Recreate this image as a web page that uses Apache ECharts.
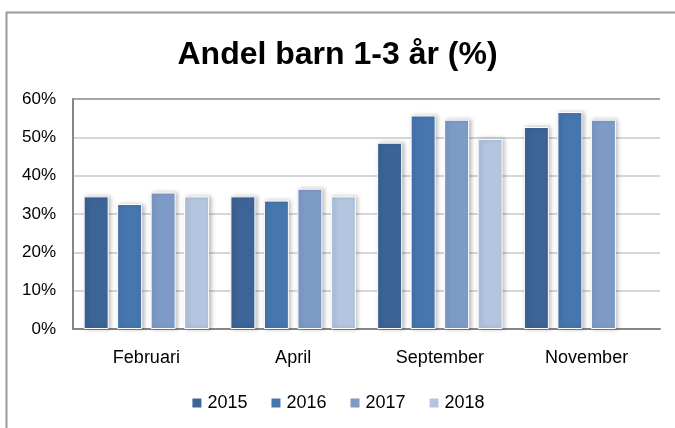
<!DOCTYPE html>
<html>
<head>
<meta charset="utf-8">
<script src="https://cdn.jsdelivr.net/npm/echarts@6/dist/echarts.min.js"></script>
<style>html,body{margin:0;padding:0;background:#fff}#c{width:675px;height:428px}</style>
</head>
<body>
<div id="c"></div>
<script>
const categories = ['Februari', 'April', 'September', 'November'];
const seriesNames = ['2015', '2016', '2017', '2018'];
const v2015 = [34.6, 34.6, 48.6, 52.7];
const v2016 = [32.6, 33.5, 55.7, 56.6];
const v2017 = [35.6, 36.6, 54.6, 54.6];
const v2018 = [34.6, 34.6, 49.6, null];
const values = [v2015, v2016, v2017, v2018];
const colors = ['#3C6496', '#4676AE', '#7E9BC8', '#B4C5E0'];
const yTicks = [0, 10, 20, 30, 40, 50, 60];

const font = "'Liberation Sans', Arial, sans-serif";
const chart = echarts.init(document.getElementById('c'), null, {renderer: 'canvas'});
chart.setOption({
  animation: false,
  backgroundColor: '#fff',
  title: {
    text: 'Andel barn 1-3 år (%)',
    left: 'center', top: 34,
    textStyle: {fontFamily: font, fontWeight: 'bold', fontSize: 32, color: '#000'}
  },
  graphic: [{
    type: 'rect', left: 4, top: 10, z: -1,
    shape: {width: 720, height: 460},
    style: {fill: 'none', stroke: '#9a9a9a', lineWidth: 2}
  }],
  legend: {
    data: seriesNames, bottom: 11, left: 'center',
    itemWidth: 11, itemHeight: 11, itemGap: 22, icon: 'rect',
    textStyle: {fontFamily: font, fontSize: 18, color: '#000'}
  },
  grid: {left: 73, right: 15, top: 99, bottom: 99},
  xAxis: {
    type: 'category', data: categories,
    axisLine: {lineStyle: {color: '#868686', width: 2}},
    axisTick: {show: false},
    axisLabel: {fontFamily: font, fontSize: 18, color: '#000', margin: 20}
  },
  yAxis: {
    type: 'value', min: 0, max: 60, interval: 10,
    axisLine: {show: true, lineStyle: {color: '#868686', width: 2}},
    axisTick: {show: false},
    axisLabel: {fontFamily: font, fontSize: 17, color: '#000', margin: 17,
      formatter: v => yTicks.includes(v) ? v + '%' : ''},
    splitLine: {lineStyle: {color: ['#c8c8c8','#c8c8c8','#c8c8c8','#c8c8c8','#c8c8c8','#c8c8c8','#8a8a8a'], width: 1.5}}
  },
  series: seriesNames.map((n, i) => ({
    name: n, type: 'bar', data: values[i],
    barWidth: 25, barGap: '34%',
    itemStyle: {color: colors[i], borderColor: '#fff', borderWidth: 1,
      shadowColor: 'rgba(0,0,0,0.25)', shadowBlur: 4, shadowOffsetX: 2}
  }))
});
</script>
</body>
</html>
